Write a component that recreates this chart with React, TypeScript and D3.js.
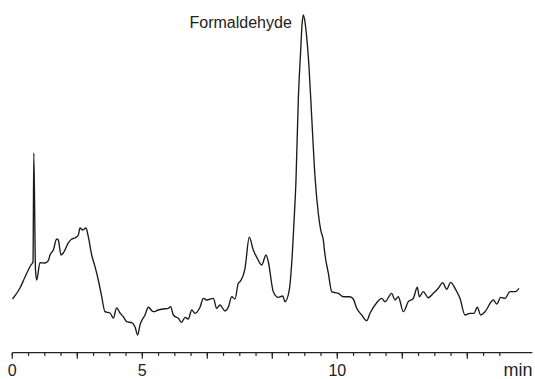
import React from "react";
import * as d3 from "d3";

// Retention time (min, on the chart's own axis scale) and detector response (% of max)
const time = [
  0.006, 0.237, 0.391, 0.575, 0.637, 0.662, 0.714, 0.751, 0.852, 1.006, 1.108, 1.16, 1.262, 1.366, 1.415,
  1.498, 1.569, 1.723, 1.828, 1.929, 2.031, 2.083, 2.166, 2.268, 2.338, 2.443, 2.545, 2.646, 2.751, 2.852,
  3.006, 3.108, 3.212, 3.314, 3.415, 3.52, 3.674, 3.775, 3.858, 3.929, 4.083, 4.185, 4.338, 4.492, 4.646,
  4.8, 4.874, 4.954, 5.108, 5.212, 5.314, 5.415, 5.52, 5.622, 5.775, 5.877, 5.982, 6.185, 6.289, 6.391,
  6.545, 6.646, 6.751, 6.852, 6.954, 7.006, 7.16, 7.292, 7.415, 7.538, 7.674, 7.806, 7.877, 8.031, 8.185,
  8.32, 8.391, 8.523, 8.597, 8.668, 8.729, 8.8, 8.874, 8.914, 8.954, 9.006, 9.052, 9.129, 9.212, 9.314,
  9.415, 9.489, 9.569, 9.622, 9.723, 9.828, 9.929, 10.031, 10.185, 10.391, 10.492, 10.597, 10.751, 10.905,
  11.006, 11.212, 11.366, 11.468, 11.674, 11.775, 11.877, 12.031, 12.185, 12.338, 12.462, 12.523, 12.646,
  12.8, 12.954, 13.108, 13.243, 13.366, 13.489, 13.622, 13.775, 13.929, 14.083, 14.206, 14.308, 14.412,
  14.545, 14.8, 14.905, 15.028, 15.16, 15.314, 15.468, 15.591,
];
const signal = [
  9.84, 13.33, 16.83, 20.63, 21.59, 56.19, 19.05, 15.87, 21.37, 21.27, 22.0, 23.81, 25.4, 28.89, 28.57,
  23.81, 24.44, 27.62, 28.89, 29.21, 30.16, 32.38, 31.75, 32.38, 29.62, 23.81, 20.1, 15.87, 10.57, 5.81,
  5.4, 3.81, 6.98, 5.4, 4.22, 2.63, 2.32, 1.05, -1.59, 1.59, 4.76, 7.21, 5.81, 6.35, 6.67,
  6.89, 7.4, 4.76, 3.71, 2.44, 4.03, 3.49, 6.35, 5.3, 7.21, 10.06, 9.52, 10.06, 6.89, 7.94,
  6.03, 7.21, 10.57, 9.84, 14.83, 15.33, 19.59, 29.43, 25.4, 22.76, 20.63, 23.81, 21.68, 12.16, 10.38,
  10.79, 8.98, 12.7, 21.17, 34.29, 47.62, 73.02, 88.89, 96.83, 100, 97.78, 93.65, 83.59, 67.71, 48.67,
  37.05, 31.75, 28.57, 23.81, 18.1, 12.16, 11.84, 11.65, 10.57, 10.57, 9.84, 6.89, 4.76, 2.95,
  5.3, 8.67, 10.06, 8.98, 11.65, 9.52, 10.57, 5.81, 8.98, 10.06, 13.56, 10.57, 12.16,
  10.25, 11.65, 13.24, 15.02, 12.92, 15.14, 13.24, 10.06, 4.76, 5.3, 5.3, 7.21, 4.76,
  5.81, 9.52, 8.25, 10.38, 10.06, 12.16, 12.16, 13.24,
];

const minorTicks = d3.range(0, 15.01, 0.5);
const majorTicks = d3.range(0, 14.01, 2);
const tickLabelPos = [0, 4, 10];
const tickLabelText = ["0", "5", "10"];
const unitLabel = "min";
const peakLabel = "Formaldehyde";

const W = 535;
const H = 379;

export default function App() {
  const x = d3.scaleLinear().domain([0, 16]).range([12.3, 532.3]);
  const y = d3.scaleLinear().domain([0, 100]).range([330, 15]);
  const axisY = 352.7;
  const data = time.map((t, i) => [t, signal[i]] as [number, number]);
  const line = d3
    .line<[number, number]>()
    .x((d) => x(d[0]))
    .y((d) => y(d[1]))
    .curve(d3.curveMonotoneX);
  const font = "'Liberation Sans', Arial, Helvetica, sans-serif";
  return (
    <svg
      width={W}
      height={H}
      style={{ position: "absolute", left: 0, top: 0, background: "#fff" }}
    >
      <path d={line(data) || ""} fill="none" stroke="#1a1a1a" strokeWidth={1.35} strokeLinejoin="round" />
      <line x1={x(0)} x2={x(16)} y1={axisY} y2={axisY} stroke="#222" strokeWidth={1.2} />
      {minorTicks.map((t) => (
        <line key={"m" + t} x1={x(t)} x2={x(t)} y1={axisY} y2={axisY + 3.2} stroke="#222" strokeWidth={1.2} />
      ))}
      {majorTicks.map((t) => (
        <line key={"M" + t} x1={x(t)} x2={x(t)} y1={axisY} y2={axisY + 6} stroke="#222" strokeWidth={1.2} />
      ))}
      {tickLabelPos.map((t, i) => (
        <text
          key={"l" + t}
          x={x(t)}
          y={375.7}
          textAnchor="middle"
          fontFamily={font}
          fontSize={16}
          fill="#222"
        >
          {tickLabelText[i]}
        </text>
      ))}
      <text x={532.5} y={375.7} textAnchor="end" fontFamily={font} fontSize={18} fill="#222">
        {unitLabel}
      </text>
      <text x={x(8.954) - 11.5} y={28} textAnchor="end" fontFamily={font} fontSize={16} fill="#222">
        {peakLabel}
      </text>
    </svg>
  );
}
